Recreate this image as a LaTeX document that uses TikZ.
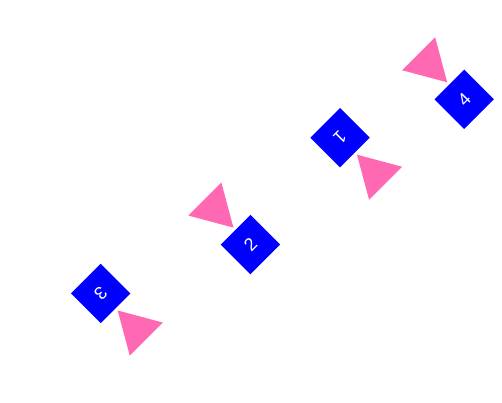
\documentclass[tikz,border=0pt]{standalone}
\usepackage{fontspec}
\setmainfont{Liberation Sans}
\usepackage{tikz}
\usetikzlibrary{shapes.geometric}
\definecolor{tileblue}{HTML}{0000FF}
\definecolor{markpink}{HTML}{FF69B4}
\tikzset{
  tile/.style={fill=tileblue, minimum size=42pt, inner sep=0pt, text=white, font=\fontsize{18}{18}\selectfont},
  marker/.style={regular polygon, regular polygon sides=3, fill=markpink, minimum size=54pt, inner sep=0pt, shape border rotate=180}
}
\begin{document}
\begin{tikzpicture}[x=1pt,y=1pt]
\useasboundingbox (0,0) rectangle (502,403);
\foreach \num/\px/\py/\turn in {1/340/265.3/-135, 2/250.4/158.4/45, 3/100.7/109.5/-135, 4/464.2/303.7/45} {
  \begin{scope}[shift={(\px,\py)}, rotate=\turn, transform shape]
    \node[tile] (tile\num) at (0,0) {\num};
    \node[marker] (marker\num) at (0,51) {};
  \end{scope}
}
\end{tikzpicture}
\end{document}
